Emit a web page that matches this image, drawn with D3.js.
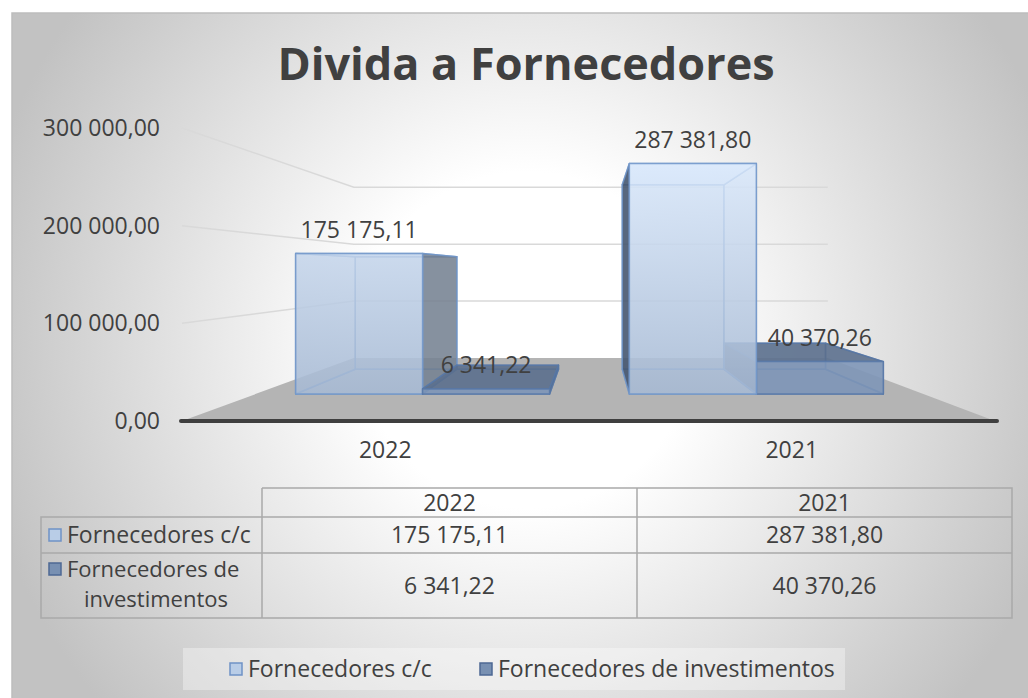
<!DOCTYPE html>
<html>
<head>
  <meta charset="utf-8">
  <style>
    body { margin: 0; background: #ffffff; }
    text { font-family: "Open Sans", "Noto Sans", sans-serif; fill: #404040; }
  </style>
</head>
<body>
  <script src="https://cdn.jsdelivr.net/npm/d3@7"></script>
  <script>
    // data
    const categories = ["2022", "2021"];
    const seriesNames = ["Fornecedores c/c", "Fornecedores de investimentos"];
    const ccValues = [175175.11, 287381.80];
    const invValues = [6341.22, 40370.26];
    const yTicks = [0, 100000, 200000, 300000];
    const tableRowLabels = [["Fornecedores c/c"], ["Fornecedores de", "investimentos"]];

    const W = 1028, H = 698;

    // portuguese number format: "175 175,11"
    const pt = d3.formatLocale({ decimal: ",", thousands: "\u00a0", grouping: [3], currency: ["", " €"] });
    const fmt = pt.format(",.2f");

    const svg = d3.select("body").append("svg")
      .attr("width", W)
      .attr("height", H);

    const defs = svg.append("defs");

    const bg = defs.append("radialGradient")
      .attr("id", "bg")
      .attr("gradientUnits", "userSpaceOnUse")
      .attr("cx", 527).attr("cy", 340).attr("r", 560);
    bg.append("stop").attr("offset", 0).attr("stop-color", "#ffffff");
    bg.append("stop").attr("offset", 0.3).attr("stop-color", "#ffffff");
    bg.append("stop").attr("offset", 1).attr("stop-color", "#c2c2c2");

    const frontGrad = defs.append("linearGradient")
      .attr("id", "ccFront")
      .attr("gradientUnits", "userSpaceOnUse")
      .attr("x1", 0).attr("y1", 160).attr("x2", 0).attr("y2", 395);
    frontGrad.append("stop").attr("offset", 0).attr("stop-color", "#ddebfd");
    frontGrad.append("stop").attr("offset", 1).attr("stop-color", "#a5b8d2");

    // chart area background
    svg.append("rect")
      .attr("x", 12).attr("y", 13)
      .attr("width", 1040).attr("height", 700)
      .attr("fill", "url(#bg)")
      .attr("stroke", "#bdbdbd")
      .attr("stroke-width", 1.5);

    // title
    svg.append("text")
      .attr("x", 526)
      .attr("y", 80)
      .attr("text-anchor", "middle")
      .style("font-size", "45px")
      .style("font-weight", "bold")
      .text("Divida a Fornecedores");

    // scales on the front plane
    const y = d3.scaleLinear().domain([0, 300000]).range([421, 128]);
    const x = d3.scaleBand().domain(categories).range([182, 995])
      .paddingInner(0.239).paddingOuter(0.1195);
    const xs = d3.scaleBand().domain(seriesNames).range([0, x.bandwidth()]);

    // simple one point perspective
    const cx = 594, hy = 270;
    const sWall = 0.583, sBarFront = 0.821, sBarBack = 0.657;
    function proj(X, v, s) {
      return [cx + s * (X - cx), hy + s * (y(v) - hy)];
    }
    const line = d3.line();
    const poly = pts => line(pts) + "Z";

    const x0 = x.range()[0], x1 = x.range()[1];

    // gridlines on side wall + back wall
    svg.append("g")
      .selectAll("path")
      .data(yTicks.filter(d => d > 0))
      .join("path")
      .attr("d", d => line([proj(x0, d, 1), proj(x0, d, sWall), proj(x1, d, sWall)]))
      .attr("fill", "none")
      .attr("stroke", "#d9d9d9")
      .attr("stroke-width", 1.5);

    // floor
    svg.append("path")
      .attr("d", poly([proj(x0, 0, 1), proj(x1, 0, 1), proj(x1, 0, sWall), proj(x0, 0, sWall)]))
      .attr("fill", "#b4b4b4");

    svg.append("line")
      .attr("x1", x0 - 1).attr("x2", x1 + 2)
      .attr("y1", y(0)).attr("y2", y(0))
      .attr("stroke", "#3f3f3f")
      .attr("stroke-width", 4)
      .attr("stroke-linecap", "round");

    // y axis labels
    svg.append("g")
      .selectAll("text")
      .data(yTicks)
      .join("text")
      .attr("x", 160)
      .attr("y", d => y(d))
      .attr("dy", "0.35em")
      .attr("text-anchor", "end")
      .style("font-size", "23px")
      .text(d => fmt(d));

    // category labels
    svg.append("g")
      .selectAll("text")
      .data(categories)
      .join("text")
      .attr("x", d => x(d) + x.bandwidth() / 2)
      .attr("y", 450)
      .attr("dy", "0.35em")
      .attr("text-anchor", "middle")
      .style("font-size", "23px")
      .text(d => d);

    // bar styles
    const style = {
      "Fornecedores c/c": {
        front: "url(#ccFront)", frontOp: 0.82, top: "#d5e4f8", back: "#b7cae4",
        sideR: "#6f7a89", sideL: "#3f5068", stroke: "#7196c9"
      },
      "Fornecedores de investimentos": {
        front: "#7f97b9", frontOp: 0.85, top: "#5a6e8c", back: "#6e84a6",
        sideR: "#4a5b74", sideL: "#4a5b74", stroke: "#5878a8"
      }
    };

    const bars = [];
    categories.forEach((c, i) => {
      bars.push({ cat: c, series: seriesNames[0], value: ccValues[i] });
      bars.push({ cat: c, series: seriesNames[1], value: invValues[i] });
    });
    bars.forEach(b => {
      b.X0 = x(b.cat) + xs(b.series);
      b.X1 = b.X0 + xs.bandwidth();
      b.dist = Math.abs((b.X0 + b.X1) / 2 - cx);
    });
    // far from the centre line first
    bars.sort((a, b) => b.dist - a.dist);

    const barG = svg.append("g");
    bars.forEach(b => {
      const st = style[b.series];
      const f00 = proj(b.X0, 0, sBarFront), f10 = proj(b.X1, 0, sBarFront);
      const f11 = proj(b.X1, b.value, sBarFront), f01 = proj(b.X0, b.value, sBarFront);
      const b00 = proj(b.X0, 0, sBarBack), b10 = proj(b.X1, 0, sBarBack);
      const b11 = proj(b.X1, b.value, sBarBack), b01 = proj(b.X0, b.value, sBarBack);
      const leftOfCentre = (b.X0 + b.X1) / 2 < cx;
      const faces = [
        { pts: [b00, b10, b11, b01], fill: st.back, op: 0.4 },
        { pts: [f00, f10, b10, b00], fill: st.back, op: 0.35 },
        leftOfCentre
          ? { pts: [f00, f01, b01, b00], fill: st.back, op: 0.3 }
          : { pts: [f10, f11, b11, b10], fill: st.back, op: 0.3 },
        { pts: [f01, f11, b11, b01], fill: st.top, op: 0.85 },
        leftOfCentre
          ? { pts: [f10, f11, b11, b10], fill: st.sideR, op: 0.8 }
          : { pts: [f00, f01, b01, b00], fill: st.sideL, op: 0.85 },
        { pts: [f00, f10, f11, f01], fill: st.front, op: st.frontOp }
      ];
      const g = barG.append("g");
      g.selectAll("path")
        .data(faces)
        .join("path")
        .attr("d", d => poly(d.pts))
        .attr("fill", d => d.fill)
        .attr("fill-opacity", d => d.op)
        .attr("stroke", st.stroke)
        .attr("stroke-opacity", 0.8)
        .attr("stroke-width", 1.5)
        .attr("stroke-linejoin", "round");
      b.labelX = (f01[0] + f11[0]) / 2;
      b.labelY = Math.min(f01[1], f11[1]) - 16;
    });

    // data labels
    svg.append("g")
      .selectAll("text")
      .data(bars)
      .join("text")
      .attr("x", d => d.labelX)
      .attr("y", d => d.labelY)
      .attr("text-anchor", "middle")
      .style("font-size", "23px")
      .text(d => fmt(d.value));

    // data table
    const tLeft = 41, tSplit = 262, tRight = 1012;
    const rowY = [488, 517, 553, 618];
    const tx = d3.scaleBand().domain(categories).range([tSplit, tRight]);
    const table = svg.append("g")
      .attr("fill", "none")
      .attr("stroke", "#a9a9a9")
      .attr("stroke-width", 1.5);
    table.append("path")
      .attr("d", `M${tSplit},${rowY[0]}H${tRight}V${rowY[3]}H${tLeft}V${rowY[1]}H${tRight}
                  M${tLeft},${rowY[2]}H${tRight}M${tSplit},${rowY[0]}V${rowY[3]}
                  M${tx("2021")},${rowY[0]}V${rowY[3]}`);

    svg.append("g")
      .selectAll("text")
      .data(categories)
      .join("text")
      .attr("x", d => tx(d) + tx.bandwidth() / 2)
      .attr("y", (rowY[0] + rowY[1]) / 2)
      .attr("dy", "0.35em")
      .attr("text-anchor", "middle")
      .style("font-size", "23px")
      .text(d => d);

    const tableVals = [ccValues, invValues];
    tableVals.forEach((vals, r) => {
      svg.append("g")
        .selectAll("text")
        .data(categories)
        .join("text")
        .attr("x", d => tx(d) + tx.bandwidth() / 2)
        .attr("y", (rowY[r + 1] + rowY[r + 2]) / 2)
        .attr("dy", "0.35em")
        .attr("text-anchor", "middle")
        .style("font-size", "23px")
        .text((d, i) => fmt(vals[i]));
    });

    const keyStyle = [
      { fill: "#b9cde7", stroke: "#6f92c6" },
      { fill: "#7890b2", stroke: "#4d6894" }
    ];

    // row headers with keys
    svg.append("rect").attr("x", 49).attr("y", 529).attr("width", 12).attr("height", 12)
      .attr("fill", keyStyle[0].fill).attr("stroke", keyStyle[0].stroke).attr("stroke-width", 1.5);
    svg.append("text").attr("x", 67).attr("y", 543).style("font-size", "23px")
      .text(tableRowLabels[0][0]);
    svg.append("rect").attr("x", 49).attr("y", 563).attr("width", 12).attr("height", 12)
      .attr("fill", keyStyle[1].fill).attr("stroke", keyStyle[1].stroke).attr("stroke-width", 1.5);
    svg.append("text").attr("x", 67).attr("y", 577).style("font-size", "22px")
      .text(tableRowLabels[1][0]);
    svg.append("text").attr("x", 156).attr("y", 607).attr("text-anchor", "middle")
      .style("font-size", "22px")
      .text(tableRowLabels[1][1]);

    // legend
    svg.append("rect")
      .attr("x", 183).attr("y", 648)
      .attr("width", 662).attr("height", 42)
      .attr("fill", "#ffffff")
      .attr("fill-opacity", 0.35);

    const legendX = [230, 480];
    const legend = svg.append("g")
      .selectAll("g")
      .data(seriesNames)
      .join("g")
      .attr("transform", (d, i) => `translate(${legendX[i]},669)`);
    legend.append("rect")
      .attr("x", 0).attr("y", -6)
      .attr("width", 12).attr("height", 12)
      .attr("fill", (d, i) => keyStyle[i].fill)
      .attr("stroke", (d, i) => keyStyle[i].stroke)
      .attr("stroke-width", 1.5);
    legend.append("text")
      .attr("x", 18)
      .attr("dy", "0.35em")
      .style("font-size", "23px")
      .text(d => d);
  </script>
</body>
</html>
